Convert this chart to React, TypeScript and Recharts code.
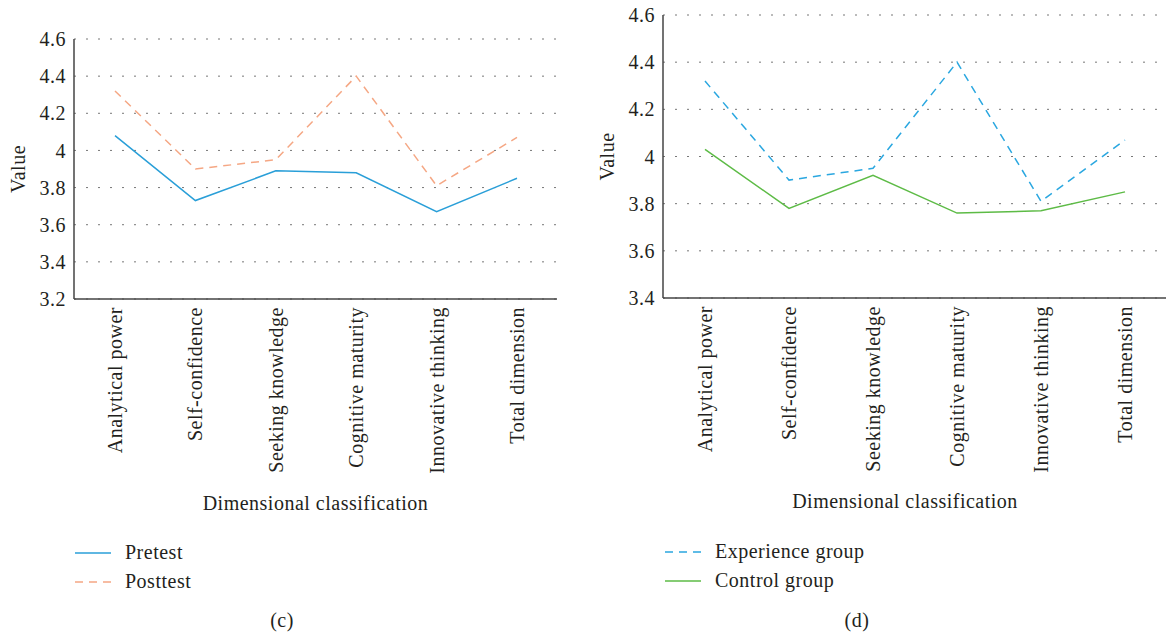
import React from "react";
import { LineChart, Line, XAxis, YAxis, CartesianGrid } from "recharts";

const categories = [
  "Analytical power",
  "Self-confidence",
  "Seeking knowledge",
  "Cognitive maturity",
  "Innovative thinking",
  "Total dimension",
];

// panel (c)
const pretest = [4.08, 3.73, 3.89, 3.88, 3.67, 3.85];
const posttest = [4.32, 3.9, 3.95, 4.4, 3.81, 4.07];
const ticksC = [3.2, 3.4, 3.6, 3.8, 4, 4.2, 4.4, 4.6];

// panel (d)
const experienceGroup = [4.32, 3.9, 3.95, 4.4, 3.81, 4.07];
const controlGroup = [4.03, 3.78, 3.92, 3.76, 3.77, 3.85];
const ticksD = [3.4, 3.6, 3.8, 4, 4.2, 4.4, 4.6];

const dataC = categories.map((name, i) => ({ name, pretest: pretest[i], posttest: posttest[i] }));
const dataD = categories.map((name, i) => ({
  name,
  experience: experienceGroup[i],
  control: controlGroup[i],
}));

const FONT = "'Liberation Serif', 'DejaVu Serif', serif";
const INK = "#231f20";
const FS = 20;
const LS = 0.5;

const RotTick = (props: any) => {
  const { x, y, payload } = props;
  return (
    <text
      x={x}
      y={y}
      dy="0.35em"
      textAnchor="end"
      transform={`rotate(-90, ${x}, ${y})`}
      fontFamily={FONT}
      fontSize={FS}
      letterSpacing={LS}
      fill={INK}
    >
      {payload.value}
    </text>
  );
};

const yTitle = (xPos: number) => (props: any) => {
  const vb = props.viewBox;
  const cy = vb.y + vb.height / 2;
  return (
    <text
      x={xPos}
      y={cy}
      textAnchor="middle"
      dominantBaseline="central"
      transform={`rotate(-90, ${xPos}, ${cy})`}
      fontFamily={FONT}
      fontSize={FS}
      letterSpacing={LS}
      fill={INK}
    >
      Value
    </text>
  );
};

const LegendRow = ({ color, dash, label }: { color: string; dash?: string; label: string }) => (
  <div style={{ display: "flex", alignItems: "center", height: 29 }}>
    <svg width={36} height={10} style={{ marginRight: 14 }}>
      <line x1={0} y1={5} x2={36} y2={5} stroke={color} strokeWidth={1.5} strokeDasharray={dash} />
    </svg>
    <span>{label}</span>
  </div>
);

const textStyle: React.CSSProperties = { fontFamily: FONT, fontSize: FS, color: INK, letterSpacing: LS };
const tickStyle = { fontFamily: FONT, fontSize: FS, fill: INK, letterSpacing: LS };

export default function App() {
  return (
    <div
      style={{
        position: "absolute",
        left: 0,
        top: 0,
        width: 1166,
        height: 637,
        overflow: "hidden",
        background: "#fff",
        ...textStyle,
      }}
    >
      {/* (c) */}
      <div style={{ position: "absolute", left: 0, top: 0 }}>
        <LineChart width={560} height={520} data={dataC} margin={{ top: 39, right: 3, bottom: 0, left: 0 }}>
          <CartesianGrid vertical={false} stroke="#777" strokeDasharray="2 10" />
          <XAxis
            dataKey="name"
            padding={{ left: 41, right: 40 }}
            height={221}
            tickLine={false}
            axisLine={{ stroke: "#444", strokeWidth: 1.5 }}
            interval={0}
            tick={<RotTick />}
            label={{
              value: "Dimensional classification",
              position: "insideBottom",
              offset: 10,
              ...tickStyle,
            }}
          />
          <YAxis
            width={74}
            domain={[3.2, 4.6]}
            ticks={ticksC}
            tickLine={false}
            axisLine={{ stroke: "#444", strokeWidth: 1.5 }}
            tick={tickStyle}
            label={{ content: yTitle(18) }}
          />
          <Line dataKey="pretest" stroke="#2a9fd8" strokeWidth={1.5} dot={false} isAnimationActive={false} />
          <Line
            dataKey="posttest"
            stroke="#f5a784"
            strokeWidth={1.5}
            strokeDasharray="8 6"
            dot={false}
            isAnimationActive={false}
          />
        </LineChart>
      </div>
      <div style={{ position: "absolute", left: 75, top: 538 }}>
        <LegendRow color="#2a9fd8" label="Pretest" />
        <LegendRow color="#f5a784" dash="8 6" label="Posttest" />
      </div>
      <div style={{ position: "absolute", left: 282, top: 620, transform: "translate(-50%, -50%)" }}>(c)</div>

      {/* (d) */}
      <div style={{ position: "absolute", left: 590, top: 0 }}>
        <LineChart width={577} height={520} data={dataD} margin={{ top: 15, right: 0, bottom: 0, left: 0 }}>
          <CartesianGrid vertical={false} stroke="#777" strokeDasharray="2 10" />
          <XAxis
            dataKey="name"
            padding={{ left: 42, right: 42 }}
            height={222}
            tickLine={false}
            axisLine={{ stroke: "#444", strokeWidth: 1.5 }}
            interval={0}
            tick={<RotTick />}
            label={{
              value: "Dimensional classification",
              position: "insideBottom",
              offset: 12,
              dx: -10,
              ...tickStyle,
            }}
          />
          <YAxis
            width={73}
            domain={[3.4, 4.6]}
            ticks={ticksD}
            tickLine={false}
            axisLine={{ stroke: "#444", strokeWidth: 1.5 }}
            tick={tickStyle}
            label={{ content: yTitle(17) }}
          />
          <Line
            dataKey="experience"
            stroke="#2aa7e0"
            strokeWidth={1.5}
            strokeDasharray="8 6"
            dot={false}
            isAnimationActive={false}
          />
          <Line dataKey="control" stroke="#5dbb46" strokeWidth={1.5} dot={false} isAnimationActive={false} />
        </LineChart>
      </div>
      <div style={{ position: "absolute", left: 665, top: 537 }}>
        <LegendRow color="#2aa7e0" dash="8 6" label="Experience group" />
        <LegendRow color="#5dbb46" label="Control group" />
      </div>
      <div style={{ position: "absolute", left: 857, top: 620, transform: "translate(-50%, -50%)" }}>(d)</div>
    </div>
  );
}
